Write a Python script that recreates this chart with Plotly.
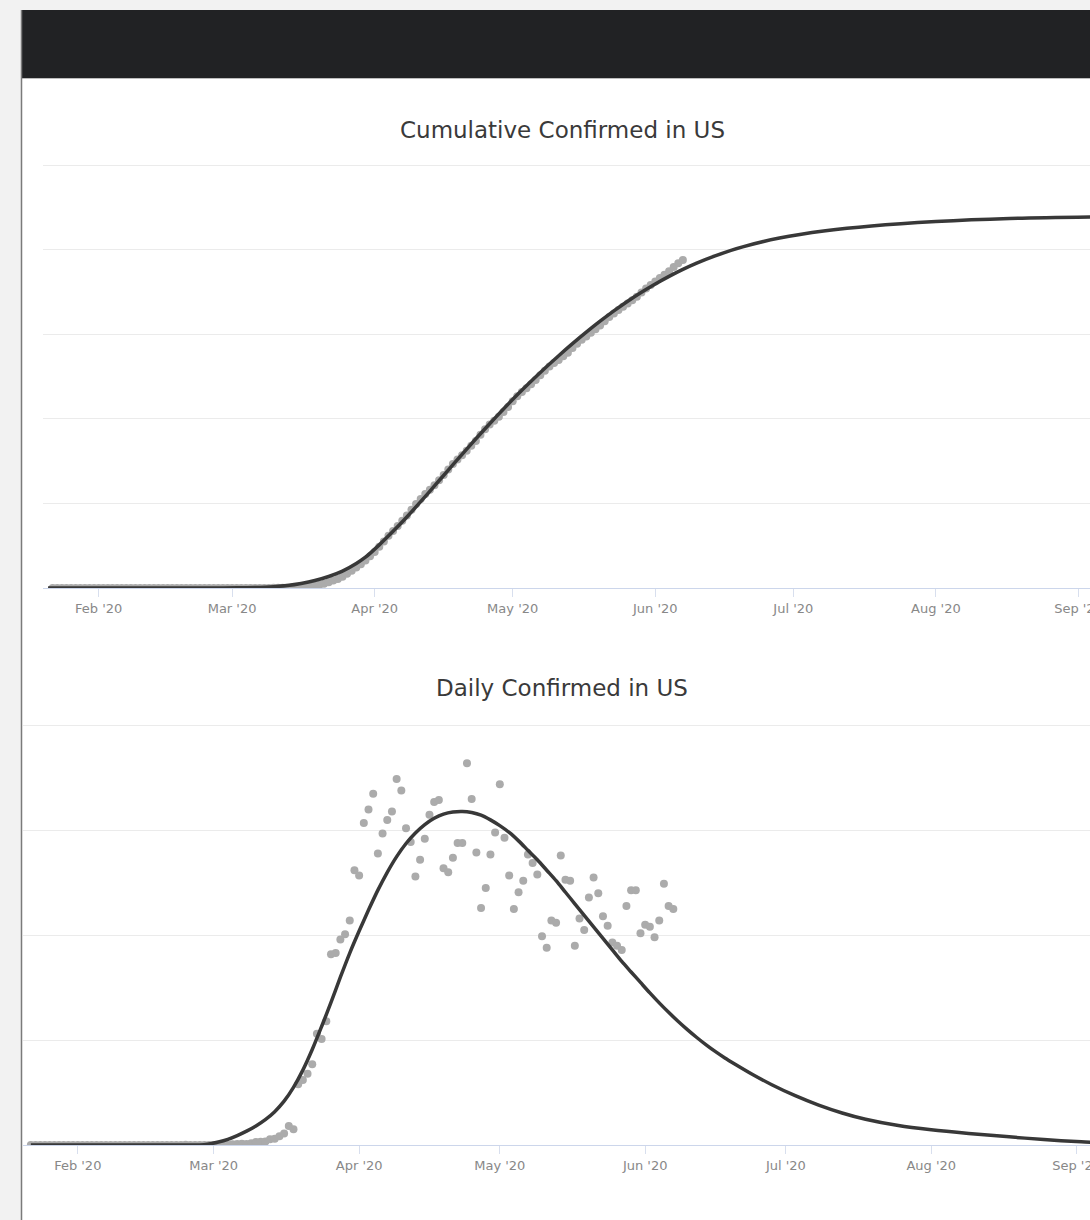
import plotly.graph_objects as go
import pandas as pd

# ---------------- data ----------------
DATES = pd.date_range("2020-01-22", "2020-06-07", freq="D")

CUMULATIVE = [
    1, 1, 2, 2, 5, 5, 5, 5, 5, 6,
    8, 8, 11, 11, 11, 12, 12, 12, 12, 12, 13, 13, 14, 14, 14, 14, 14, 14, 14, 14,
    16, 16, 16, 51, 51, 60, 60, 62, 70,
    76, 100, 124, 158, 221, 319, 435, 541, 704, 994, 1301, 1630, 2183, 2770, 3613,
    4596, 6344, 9197, 13779, 19273, 25600, 33276, 43847, 53740, 65778, 83836,
    101657, 121478, 140886, 161807, 188172,
    213242, 243622, 275367, 308650, 336802, 366317, 397121, 428654, 462780, 496535,
    526396, 555313, 580619, 607670, 636350, 667801, 699706, 732197, 759086, 784326,
    811865, 840351, 869170, 905358, 938154, 965785, 988197, 1012582, 1039909, 1069424,
    1103461, 1132539, 1158040, 1180375, 1204351, 1229331, 1257023, 1283929, 1309550,
    1329260, 1347881, 1369376, 1390406, 1417774, 1442824, 1467820, 1486757, 1508308,
    1528568, 1551853, 1577147, 1600937, 1622612, 1643246, 1662302, 1681212, 1699933,
    1721750, 1747087, 1770165, 1790172,
    1811277, 1831821, 1851520, 1872660, 1897838, 1920061, 1938823,
]

DAILY = [
    0, 0, 1, 0, 3, 0, 0, 0, 0, 1,
    2, 0, 3, 0, 0, 1, 0, 0, 0, 0, 1, 0, 1, 0, 0, 0, 0, 0, 0, 0, 2, 0, 0, 35, 0, 9, 0, 2, 8,
    6, 24, 24, 34, 63, 98, 116, 106, 163, 290, 307, 329, 553, 587, 843,
    1100, 1800, 1500, 5800, 6200, 6800, 7700, 10600, 10100, 11800,
    18200, 18300, 19600, 20100, 21400, 26200,
    25700, 30700, 32000, 33500, 27800, 29700, 31000, 31800, 34900, 33800,
    30200, 28900, 25600, 27200, 29200, 31500, 32700, 32900, 26400, 26000,
    27400, 28800, 28800, 36400, 33000, 27900, 22600, 24500, 27700, 29800,
    34400, 29300, 25700, 22500, 24100, 25200, 27700, 26900, 25800, 19900,
    18800, 21400, 21200, 27600, 25300, 25200, 19000, 21600, 20500, 23600,
    25500, 24000, 21800, 20900, 19300, 19000, 18600, 22800, 24300, 24300, 20200,
    21000, 20800, 19800, 21400, 24900, 22800, 22500,
]

CUM_FIT_DATES = [
    "2020-01-21", "2020-02-16", "2020-02-26", "2020-03-02", "2020-03-06", "2020-03-10",
    "2020-03-13", "2020-03-16", "2020-03-19", "2020-03-22", "2020-03-25", "2020-03-28",
    "2020-03-30", "2020-04-02", "2020-04-05", "2020-04-08", "2020-04-11", "2020-04-14",
    "2020-04-17", "2020-04-20", "2020-04-23", "2020-04-26", "2020-04-29", "2020-05-02",
    "2020-05-05", "2020-05-08", "2020-05-11", "2020-05-14", "2020-05-17", "2020-05-20",
    "2020-05-23", "2020-05-26", "2020-05-29", "2020-06-01", "2020-06-04", "2020-06-07",
    "2020-06-10", "2020-06-14", "2020-06-20", "2020-06-28", "2020-07-08", "2020-07-18",
    "2020-08-01", "2020-08-17", "2020-09-04",
]
CUM_FIT = [
    0, 0, 0, 800, 3000, 8000,
    15000, 27000, 44000, 68000, 100000, 145000,
    182000, 255000, 335000, 420000, 510000, 603000,
    697000, 790000, 882000, 971000, 1058000, 1142000,
    1222000, 1299000, 1373000, 1444000, 1512000, 1577000,
    1638000, 1695000, 1748000, 1797000, 1842000, 1883000,
    1920000, 1963000, 2016000, 2068000, 2111000, 2140000,
    2166000, 2184000, 2193000,
]

DAILY_FIT_DATES = [
    "2020-01-22", "2020-02-11", "2020-02-21", "2020-02-25", "2020-02-27", "2020-02-29",
    "2020-03-02", "2020-03-04", "2020-03-06", "2020-03-08", "2020-03-10", "2020-03-12",
    "2020-03-14", "2020-03-16", "2020-03-18", "2020-03-20", "2020-03-22", "2020-03-24",
    "2020-03-26", "2020-03-28", "2020-03-30", "2020-04-01", "2020-04-03", "2020-04-05",
    "2020-04-07", "2020-04-09", "2020-04-11", "2020-04-13", "2020-04-15", "2020-04-17",
    "2020-04-19", "2020-04-21", "2020-04-23", "2020-04-25", "2020-04-27", "2020-04-29",
    "2020-05-01", "2020-05-03", "2020-05-05", "2020-05-07", "2020-05-09", "2020-05-11",
    "2020-05-13", "2020-05-15", "2020-05-17", "2020-05-19", "2020-05-21", "2020-05-23",
    "2020-05-25", "2020-05-27", "2020-05-29", "2020-05-31", "2020-06-02", "2020-06-04",
    "2020-06-06", "2020-06-08", "2020-06-10", "2020-06-12", "2020-06-14", "2020-06-16",
    "2020-06-18", "2020-06-20", "2020-06-24", "2020-06-28", "2020-07-03", "2020-07-08",
    "2020-07-13", "2020-07-18", "2020-07-25", "2020-08-01", "2020-08-09", "2020-08-17",
    "2020-08-25", "2020-09-02", "2020-09-05",
]
DAILY_FIT = [
    0, 0, 0, 0, 0, 100,
    280, 540, 900, 1320, 1820, 2420,
    3180, 4180, 5500, 7140, 9100, 11300,
    13600, 16000, 18300, 20400, 22400, 24300,
    26000, 27500, 28750, 29750, 30550, 31150,
    31550, 31750, 31800, 31700, 31450, 31000,
    30450, 29800, 29000, 28100, 27200, 26200,
    25200, 24100, 23000, 21900, 20800, 19700,
    18600, 17500, 16500, 15500, 14500, 13550,
    12650, 11800, 11000, 10250, 9550, 8900,
    8300, 7750, 6700, 5750, 4700, 3800,
    3050, 2450, 1850, 1450, 1100, 800,
    520, 300, 240,
]

TITLE_CUM = "Cumulative Confirmed in US"
TITLE_DAILY = "Daily Confirmed in US"

# ---------------- figure ----------------
W, H = 1090, 1220
FONT = "DejaVu Sans"
DOT = "#ababab"
LINE = "#383838"

fig = go.Figure()

fig.add_trace(go.Scatter(x=DATES, y=CUMULATIVE, mode="markers",
                         marker=dict(size=8, color=DOT), xaxis="x", yaxis="y"))
fig.add_trace(go.Scatter(x=CUM_FIT_DATES, y=CUM_FIT, mode="lines",
                         line=dict(color=LINE, width=3.5, shape="spline", smoothing=0.8),
                         xaxis="x", yaxis="y"))
fig.add_trace(go.Scatter(x=DATES, y=DAILY, mode="markers",
                         marker=dict(size=8, color=DOT), xaxis="x2", yaxis="y2"))
fig.add_trace(go.Scatter(x=DAILY_FIT_DATES, y=DAILY_FIT, mode="lines",
                         line=dict(color=LINE, width=3.5, shape="spline", smoothing=0.8),
                         xaxis="x2", yaxis="y2"))

xcommon = dict(type="date", dtick="M1", tick0="2020-02-01", tickformat="%b '%y",
               showgrid=False, zeroline=False, showline=True, linecolor="#ccd6eb",
               linewidth=1, ticks="outside", ticklen=8, tickcolor="#d8dfee",
               ticklabeloverflow="allow", automargin=False,
               tickfont=dict(family=FONT, size=13, color="#888888"), fixedrange=True)
ycommon = dict(showgrid=True, gridcolor="#ebebeb", gridwidth=1, zeroline=False,
               showticklabels=False, ticks="", showline=False, fixedrange=True,
               automargin=False)

# plot areas (pixel rows of the 0 and top gridlines)
Y1_BOT, Y1_TOP = 588, 165
Y2_BOT, Y2_TOP = 1145, 725.5
PAD = 3  # extra pixels above the top gridline so it is drawn

fig.update_layout(
    width=W, height=H, autosize=False,
    margin=dict(l=0, r=0, t=0, b=0, autoexpand=False),
    paper_bgcolor="#f2f2f2", plot_bgcolor="white",
    showlegend=False,
    xaxis=dict(xcommon, domain=[43 / W, 1], anchor="y",
               range=["2020-01-19 21:36", "2020-09-03 12:00"]),
    yaxis=dict(ycommon, domain=[1 - Y1_BOT / H, 1 - (Y1_TOP - PAD) / H], anchor="x",
               range=[0, 2500000 * (1 + PAD / (Y1_BOT - Y1_TOP))], dtick=500000),
    xaxis2=dict(xcommon, domain=[23 / W, 1], anchor="y2",
                range=["2020-01-20 07:40", "2020-09-03 20:40"]),
    yaxis2=dict(ycommon, domain=[1 - Y2_BOT / H, 1 - (Y2_TOP - PAD) / H], anchor="x2",
                range=[0, 40000 * (1 + PAD / (Y2_BOT - Y2_TOP))], dtick=10000),
    shapes=[
        dict(type="rect", xref="paper", yref="paper", layer="below",
             x0=21 / W, x1=1, y0=0, y1=1 - 77 / H, fillcolor="white", line_width=0),
        dict(type="rect", xref="paper", yref="paper", layer="below",
             x0=21 / W, x1=1, y0=1 - 78 / H, y1=1 - 10 / H, fillcolor="#212224", line_width=0),
        dict(type="line", xref="paper", yref="paper", layer="above",
             x0=21.5 / W, x1=21.5 / W, y0=0, y1=1 - 10 / H, line=dict(color="#7a7a7a", width=1.5)),
        dict(type="line", xref="paper", yref="paper", layer="below",
             x0=21 / W, x1=1, y0=1 - 78.5 / H, y1=1 - 78.5 / H, line=dict(color="#bdbdbd", width=1)),
    ],
    annotations=[
        dict(text=TITLE_CUM, xref="paper", yref="paper", x=562 / W, y=1 - 130 / H,
             xanchor="center", yanchor="middle", showarrow=False,
             font=dict(family=FONT, size=23, color="#3a3a3a")),
        dict(text=TITLE_DAILY, xref="paper", yref="paper", x=562 / W, y=1 - 688 / H,
             xanchor="center", yanchor="middle", showarrow=False,
             font=dict(family=FONT, size=23, color="#3a3a3a")),
    ],
)

fig.write_html("out.html", config={"displayModeBar": False},
               post_script="document.body.style.margin='0';document.body.style.overflow='hidden';"
                           "document.documentElement.style.overflow='hidden';")
